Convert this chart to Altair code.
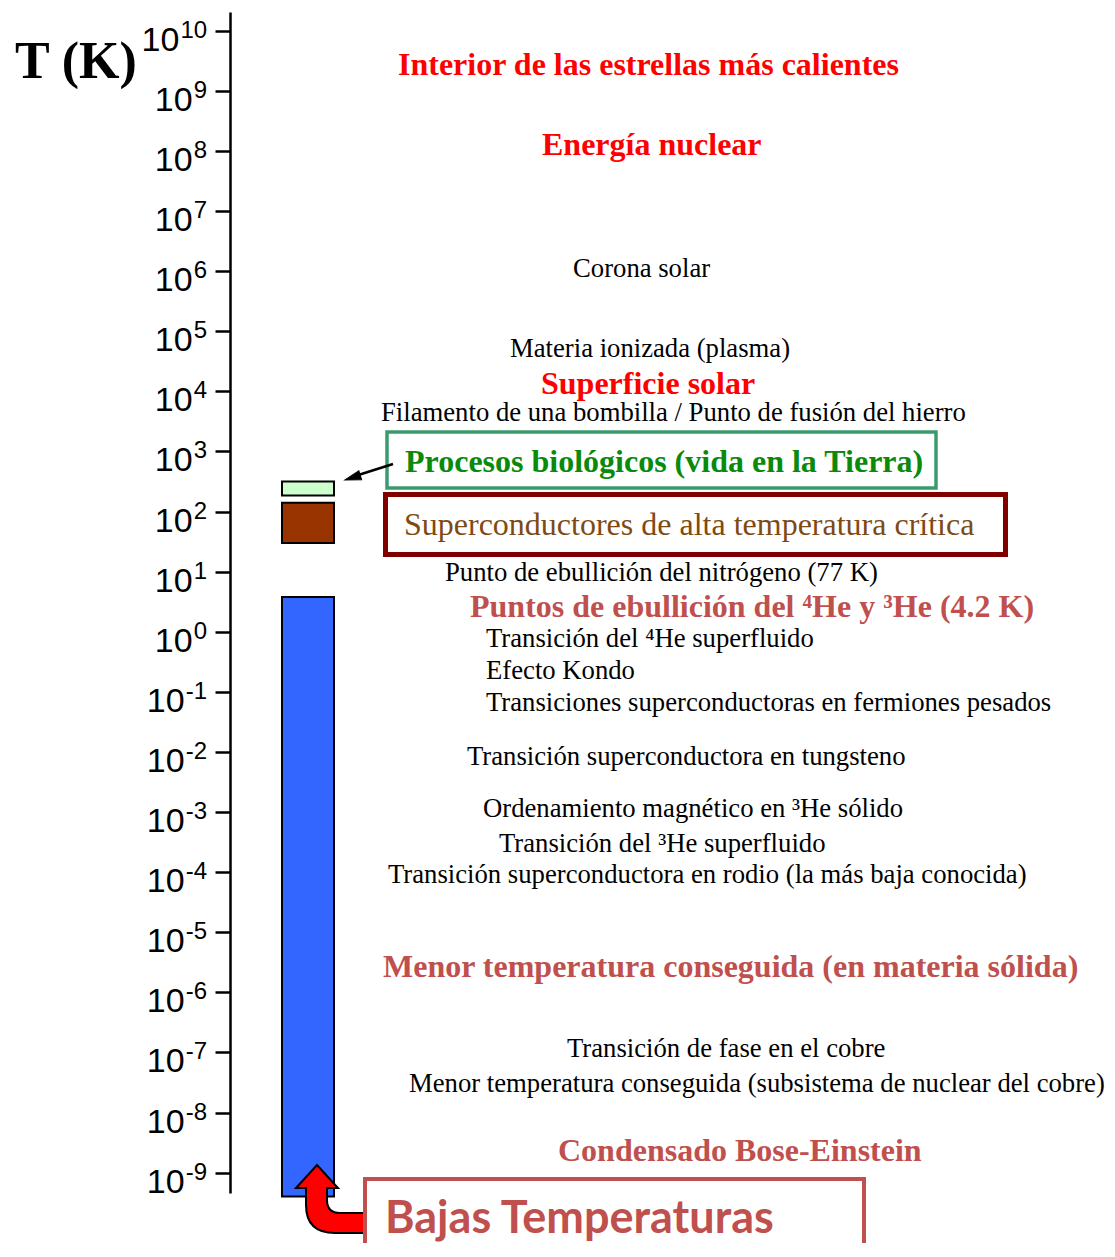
import altair as alt
import pandas as pd

# ---------------- data ----------------
exponents = list(range(-9, 11))
tick_values = [10.0 ** e for e in exponents]

bar_names = ["Bajas temperaturas", "Superconductores", "Procesos biológicos"]
bar_low = [4.0e-10, 30.0, 185.0]
bar_high = [3.8, 140.0, 315.0]
bar_colors = ["#3366ff", "#993300", "#ccffcc"]

label_texts = [
    "Interior de las estrellas más calientes",
    "Energía nuclear",
    "Corona solar",
    "Materia ionizada (plasma)",
    "Superficie solar",
    "Filamento de una bombilla / Punto de fusión del hierro",
    "Procesos biológicos (vida en la Tierra)",
    "Superconductores de alta temperatura crítica",
    "Punto de ebullición del nitrógeno (77 K)",
    "Puntos de ebullición del ⁴He y ³He (4.2 K)",
    "Transición del ⁴He superfluido",
    "Efecto Kondo",
    "Transiciones superconductoras en fermiones pesados",
    "Transición superconductora en tungsteno",
    "Ordenamiento magnético en ³He sólido",
    "Transición del ³He superfluido",
    "Transición superconductora en rodio (la más baja conocida)",
    "Menor temperatura conseguida (en materia sólida)",
    "Transición de fase en el cobre",
    "Menor temperatura conseguida (subsistema de nuclear del cobre)",
    "Condensado Bose-Einstein",
]
label_temps = [
    2.72e9, 1.25e8, 1.09e6, 5.06e4, 1.32e4, 4.36e3, 667.0, 59.6, 9.5, 2.58,
    0.756, 0.222, 0.0651, 8.2e-3, 1.12e-3, 2.94e-4, 8.95e-5, 2.64e-6,
    1.14e-7, 2.98e-8, 2.29e-9,
]
label_kind = [
    "red", "red", "black", "black", "red", "black", "green", "brown", "black",
    "salmon", "black", "black", "black", "black", "black", "black", "black",
    "salmon", "black", "black", "salmon",
]
# layout: left edge of each label (page pixels)
label_left = [
    398, 542, 573, 510, 541, 381, 405, 404, 445, 470, 486, 486, 486, 467,
    483, 499, 388, 383, 567, 409, 558,
]

# ---------------- layout helpers ----------------
PAD_LEFT, PAD_TOP = 222, 4
ORIGIN_X, ORIGIN_Y = 8 + PAD_LEFT, 8 + PAD_TOP
W, H = 877, 1181


def px(x):
    return x - ORIGIN_X


def py(y):
    return y - ORIGIN_Y


styles = {
    "black": ("#000000", 26.7, "normal"),
    "brown": ("#7f4a12", 32, "normal"),
    "red": ("#ff0000", 32, "bold"),
    "green": ("#0a8a0a", 32, "bold"),
    "salmon": ("#c0504d", 32, "bold"),
}

yscale = alt.Scale(type="log", domain=[10 ** -9.338, 10 ** 10.311], nice=False, zero=False)
yaxis = alt.Axis(
    values=tick_values, labels=False, tickSize=15, tickWidth=2.5,
    domainWidth=2.5, domainColor="black", tickColor="black",
    grid=False, title=None, orient="left",
)

# ---------------- bars + axis ----------------
bars_df = pd.DataFrame({"name": bar_names, "low": bar_low, "high": bar_high, "color": bar_colors})
bars = alt.Chart(bars_df).mark_rect(stroke="black", strokeWidth=2).encode(
    x=alt.value(52),
    x2=alt.value(104),
    y=alt.Y("low:Q", scale=yscale, axis=yaxis),
    y2="high:Q",
    fill=alt.Fill("color:N", scale=None),
)

# ---------------- tick labels ----------------
exp_str = [str(e) for e in exponents]
exp_w = [sum(8 if c == "-" else 13.3 for c in s) for s in exp_str]
ticks_df = pd.DataFrame({
    "T": tick_values,
    "es": exp_str,
    "bx": [px(207 - w - 1) for w in exp_w],
    "ex": [px(207 - w) for w in exp_w],
})
sans = "Liberation Sans Narrow, Liberation Sans, Arial, sans-serif"
tick_base = alt.Chart(ticks_df).mark_text(
    text="10", align="right", baseline="alphabetic", dy=20,
    font=sans, fontSize=34, color="black",
).encode(x=alt.X("bx:Q", scale=None), y=alt.Y("T:Q", scale=yscale, axis=yaxis))
tick_exp = alt.Chart(ticks_df).mark_text(
    align="left", baseline="alphabetic", dy=7,
    font=sans, fontSize=24, color="black",
).encode(x=alt.X("ex:Q", scale=None), y=alt.Y("T:Q", scale=yscale, axis=yaxis), text="es:N")

title_mark = alt.Chart(pd.DataFrame({"t": ["T (K)"]})).mark_text(
    align="left", baseline="alphabetic", font="Liberation Serif, Times New Roman, serif",
    fontSize=52, fontWeight="bold", color="black",
).encode(x=alt.value(px(15)), y=alt.value(py(78)), text="t:N")

# ---------------- annotation boxes ----------------
def box(x1, y1, x2, y2, stroke, sw):
    return alt.Chart(pd.DataFrame({"k": [0]})).mark_rect(
        fill="white", stroke=stroke, strokeWidth=sw
    ).encode(x=alt.value(px(x1)), x2=alt.value(px(x2)), y=alt.value(py(y1)), y2=alt.value(py(y2)))

green_box = box(387, 432, 936, 488, "#3c9b6e", 3.5)
red_box = box(385.5, 494.5, 1005.5, 554.5, "#800000", 5)
low_box = box(365, 1179, 864, 1275, "#c0504d", 4)

# small black arrow
arrow_line = alt.Chart(pd.DataFrame({"k": [0]})).mark_rule(color="black", strokeWidth=2.5).encode(
    x=alt.value(px(393)), x2=alt.value(px(352)), y=alt.value(py(464)), y2=alt.value(py(477))
)
arrow_head = alt.Chart(pd.DataFrame({"k": [0]})).mark_point(
    shape="M0,-1L0.6,1L-0.6,1Z", filled=True, fill="black", stroke="black",
    strokeWidth=1, size=256, angle=253, opacity=1,
).encode(x=alt.value(px(352.6)), y=alt.value(py(477.6)))

# big red curved arrow
red_arrow_path = (
    "M-0.26,-0.80 L0.16,-0.34 L-0.06,-0.34 L-0.06,-0.10 "
    "Q-0.06,0.16 0.20,0.16 L0.80,0.16 L0.80,0.56 L0.10,0.56 "
    "Q-0.48,0.56 -0.48,0.0 L-0.48,-0.34 L-0.68,-0.34 Z"
)
red_arrow = alt.Chart(pd.DataFrame({"k": [0]})).mark_point(
    shape=red_arrow_path, filled=True, fill="#ff0000", stroke="black",
    strokeWidth=2, size=10000, opacity=1,
).encode(x=alt.value(px(330)), y=alt.value(py(1205)))

# ---------------- text labels ----------------
lab_df = pd.DataFrame({
    "text": label_texts,
    "T": label_temps,
    "kind": label_kind,
    "xl": [px(v) for v in label_left],
})
lab_df["color"] = [styles[k][0] for k in lab_df["kind"]]
lab_df["fs"] = [styles[k][1] for k in lab_df["kind"]]
lab_df["bold"] = [styles[k][2] == "bold" for k in lab_df["kind"]]

serif = "Liberation Serif, Times New Roman, serif"
text_layers = []
for is_bold in [False, True]:
    sub = lab_df[lab_df["bold"] == is_bold]
    text_layers.append(
        alt.Chart(sub).mark_text(
            align="left", baseline="middle", font=serif,
            fontWeight="bold" if is_bold else "normal",
        ).encode(
            x=alt.X("xl:Q", scale=None),
            y=alt.Y("T:Q", scale=yscale, axis=yaxis),
            text="text:N",
            color=alt.Color("color:N", scale=None),
            size=alt.Size("fs:Q", scale=None),
        )
    )

bajas = alt.Chart(pd.DataFrame({"t": ["Bajas Temperaturas"]})).mark_text(
    align="left", baseline="alphabetic", font="Lato, Open Sans, sans-serif",
    fontSize=45, fontWeight="bold", color="#c0504d",
).encode(x=alt.value(px(385)), y=alt.value(py(1233)), text="t:N")

chart = alt.layer(
    green_box, red_box, bars, tick_base, tick_exp, title_mark,
    arrow_line, arrow_head, red_arrow, low_box,
    *text_layers, bajas,
).properties(
    width=W, height=H,
    autosize=alt.AutoSizeParams(type="none"),
    padding={"left": PAD_LEFT, "top": PAD_TOP, "right": 0, "bottom": 50},
).configure_view(stroke=None)

chart.save("out.html", embed_options={"renderer": "svg", "actions": False})
